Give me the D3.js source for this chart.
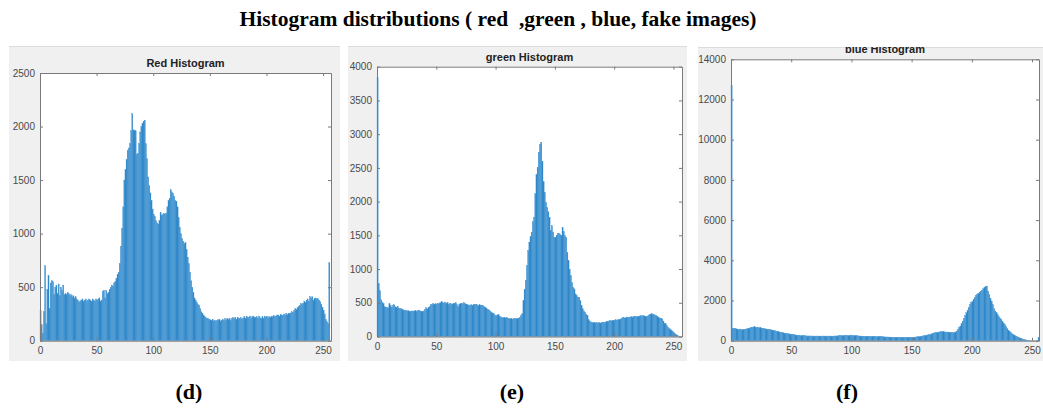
<html>
<head>
<script src="https://d3js.org/d3.v7.min.js"></script>
<style>
body { margin: 0; background: #fff; }
</style>
</head>
<body>
<div id="chart"></div>
<script>

// histogram counts per intensity level 0..255
var redCounts = [
 280,150,70,270,700,160,480,610,300,540,
 560,550,430,500,520,440,530,420,500,470,
 520,430,440,430,450,440,420,430,410,420,
 400,410,390,380,360,370,380,390,370,380,
 390,370,380,390,380,370,390,380,370,390,
 380,390,400,370,380,460,470,400,470,440,
 450,480,500,520,510,540,550,580,620,640,
 720,880,1050,1250,1500,1600,1690,1780,1800,1840,
 1960,2120,1970,1960,1960,1740,1750,1840,1950,2000,
 2030,2050,2060,1840,1700,1530,1450,1380,1310,1230,
 1180,1160,1120,1100,1090,1120,1200,1170,1180,1190,
 1180,1190,1250,1310,1330,1410,1390,1375,1350,1310,
 1300,1250,1150,1060,1000,955,930,908,920,850,
 780,720,640,560,500,450,400,380,360,340,
 333,300,270,255,240,224,215,210,208,200,
 195,190,200,185,193,180,190,195,200,185,
 193,200,190,205,195,210,200,208,190,210,
 215,205,218,200,220,210,208,215,200,212,
 225,210,230,215,220,230,210,224,230,215,
 220,224,210,230,215,208,225,210,230,220,
 230,215,225,220,230,224,235,225,230,240,
 240,230,245,240,235,250,240,255,245,255,
 255,260,270,265,280,300,290,310,320,330,
 348,340,350,370,360,380,390,370,410,400,
 410,380,395,400,390,395,380,364,340,310,
 286,250,200,177,160,728
];

var greenCounts = [
 3840,790,680,545,510,485,440,435,425,425,
 485,460,435,460,470,440,435,450,420,410,
 415,400,395,390,385,380,385,375,370,380,
 375,380,385,370,385,390,380,375,370,380,
 400,425,410,435,440,470,475,490,480,485,
 480,485,490,500,514,505,494,510,494,500,
 475,490,485,480,495,494,500,470,445,480,
 485,490,485,500,485,480,470,460,465,470,
 460,470,475,480,470,460,470,460,465,460,
 440,425,410,400,395,380,360,350,340,320,
 310,320,325,300,290,277,280,286,275,286,
 270,262,265,262,255,262,270,262,265,270,
 286,310,336,533,700,830,1050,1275,1400,1480,
 1546,1700,1770,2115,2400,2510,2730,2850,2880,2600,
 2300,2140,1990,1917,1850,1770,1570,1645,1550,1472,
 1472,1500,1530,1530,1515,1500,1620,1560,1500,1472,
 1250,1126,1000,904,800,730,706,632,607,583,
 583,533,460,410,380,360,330,311,247,230,
 215,212,205,210,202,205,202,208,200,210,
 212,215,210,220,225,230,237,232,240,235,
 245,247,240,250,255,260,270,286,280,275,
 290,286,280,286,295,290,296,300,292,296,
 300,305,310,300,311,306,300,296,305,320,
 330,336,330,326,320,310,300,286,275,270,
 262,230,200,188,160,138,120,100,89,70,
 55,40,25,12,5,3
];

var blueCounts = [
 12700,620,600,610,590,570,560,580,555,550,
 547,560,580,590,613,630,650,670,680,690,
 670,660,647,650,640,630,613,600,590,580,
 564,560,550,540,520,514,500,480,465,448,
 430,420,405,398,380,370,360,348,340,330,
 320,315,300,290,280,265,260,255,250,249,
 245,249,240,238,235,240,232,235,230,232,
 232,230,235,228,232,230,235,232,230,228,
 232,235,230,232,228,235,232,240,238,242,
 245,248,250,249,252,255,258,260,262,265,
 265,260,255,250,245,240,238,232,230,228,
 225,222,220,218,216,220,215,216,212,210,
 208,205,200,199,199,195,192,190,188,185,
 183,182,180,178,176,175,172,170,168,166,
 166,165,166,164,166,165,168,166,165,166,
 170,175,180,185,190,199,205,215,225,240,
 250,265,280,290,300,315,340,360,380,398,
 410,420,430,440,448,450,445,440,431,430,
 431,420,410,400,398,410,440,481,560,650,
 730,850,978,1100,1250,1393,1520,1650,1807,1900,
 1950,2056,2150,2250,2305,2350,2420,2471,2500,2580,
 2637,2680,2720,2471,2300,2100,1973,1800,1600,1476,
 1400,1310,1200,1130,1061,950,880,812,700,600,
 514,460,398,350,310,282,240,210,182,150,
 120,100,80,60,45,33,25,20,17,15,
 12,10,8,8,6,150
];

var xTicks = [0, 50, 100, 150, 200, 250];
var redYTicks = [0, 500, 1000, 1500, 2000, 2500];
var greenYTicks = [0, 500, 1000, 1500, 2000, 2500, 3000, 3500, 4000];
var blueYTicks = [0, 2000, 4000, 6000, 8000, 10000, 12000, 14000];

var panelTitles = ["Red Histogram", "green Histogram", "blue Histogram"];
var panelLabels = ["(d)", "(e)", "(f)"];
var mainTitle = "Histogram distributions ( red  ,green , blue, fake images)";

var width = 1043, height = 410;

var svg = d3.select("#chart")
    .append("svg")
    .attr("width", width)
    .attr("height", height);

svg.append("text")
    .attr("x", 498)
    .attr("y", 26)
    .attr("text-anchor", "middle")
    .attr("textLength", 517)
    .attr("lengthAdjust", "spacingAndGlyphs")
    .style("white-space", "pre")
    .style("font-family", "'Liberation Serif', 'Times New Roman', serif")
    .style("font-weight", "bold")
    .style("font-size", "20px")
    .text(mainTitle);

// layout of the three matlab-like figure panels
var panels = [
    {counts: redCounts, yTicks: redYTicks, yMax: 2500, xMax: 257,
     bg: {x: 9, y: 46, w: 331, h: 315},
     plot: {l: 40, t: 73, r: 331, b: 340.7}, titleY: 67, labelX: 189},
    {counts: greenCounts, yTicks: greenYTicks, yMax: 4000, xMax: 257.2,
     bg: {x: 348, y: 46, w: 339, h: 315},
     plot: {l: 377, t: 66.7, r: 682, b: 336.5}, titleY: 61, labelX: 512},
    {counts: blueCounts, yTicks: blueYTicks, yMax: 14000, xMax: 255.8,
     bg: {x: 698, y: 47, w: 345, h: 314},
     plot: {l: 731, t: 59.3, r: 1039, b: 340.7}, titleY: 53, labelX: 847}
];

var axisColor = "#7a7a7a";
var labelColor = "#4a4a4a";

panels.forEach(function(p, i) {
    var clipId = "clip" + i;
    svg.append("clipPath").attr("id", clipId)
        .append("rect")
        .attr("x", p.bg.x).attr("y", p.bg.y)
        .attr("width", p.bg.w).attr("height", p.bg.h);

    var g = svg.append("g").attr("clip-path", "url(#" + clipId + ")");

    g.append("rect")
        .attr("x", p.bg.x).attr("y", p.bg.y)
        .attr("width", p.bg.w).attr("height", p.bg.h)
        .attr("fill", "#f0f0f0");
    g.append("line")
        .attr("x1", p.bg.x).attr("x2", p.bg.x + p.bg.w)
        .attr("y1", p.bg.y + 0.5).attr("y2", p.bg.y + 0.5)
        .attr("stroke", "#dcdcdc");

    g.append("rect")
        .attr("x", p.plot.l).attr("y", p.plot.t)
        .attr("width", p.plot.r - p.plot.l).attr("height", p.plot.b - p.plot.t)
        .attr("fill", "#fff");

    var x = d3.scaleLinear().domain([0, p.xMax]).range([p.plot.l, p.plot.r]);
    var y = d3.scaleLinear().domain([0, p.yMax]).range([p.plot.b, p.plot.t]);

    g.selectAll(".bar")
        .data(p.counts)
        .enter()
        .append("rect")
        .attr("x", function(d, k) { return x(k); })
        .attr("width", function(d, k) { return x(k + 1) - x(k); })
        .attr("y", function(d) { return y(d); })
        .attr("height", function(d) { return p.plot.b - y(d); })
        .attr("fill", "#2a84c6")
        .attr("stroke", "#4f9dd8")
        .attr("stroke-width", 0.3);

    var fmt = d3.format("d");
    var left = g.append("g")
        .attr("transform", "translate(" + p.plot.l + ",0)")
        .call(d3.axisLeft(y).tickValues(p.yTicks).tickFormat(fmt).tickSizeInner(-3).tickSizeOuter(0).tickPadding(5));
    var bottom = g.append("g")
        .attr("transform", "translate(0," + p.plot.b + ")")
        .call(d3.axisBottom(x).tickValues(xTicks).tickFormat(fmt).tickSizeInner(-3).tickSizeOuter(0).tickPadding(6));
    var right = g.append("g")
        .attr("transform", "translate(" + p.plot.r + ",0)")
        .call(d3.axisRight(y).tickValues(p.yTicks).tickFormat("").tickSizeInner(-3).tickSizeOuter(0));
    var top = g.append("g")
        .attr("transform", "translate(0," + p.plot.t + ")")
        .call(d3.axisTop(x).tickValues(xTicks).tickFormat("").tickSizeInner(-3).tickSizeOuter(0));

    [left, bottom, right, top].forEach(function(a) {
        a.selectAll("path, line").attr("stroke", axisColor);
        a.selectAll("text")
            .attr("fill", labelColor)
            .style("font-family", "'Liberation Sans', Arial, sans-serif")
            .style("font-size", "10px");
    });

    g.append("text")
        .attr("x", (p.plot.l + p.plot.r) / 2)
        .attr("y", p.titleY)
        .attr("text-anchor", "middle")
        .attr("fill", "#222")
        .style("font-family", "'Liberation Sans', Arial, sans-serif")
        .style("font-weight", "bold")
        .style("font-size", "11px")
        .text(panelTitles[i]);

    svg.append("text")
        .attr("x", p.labelX)
        .attr("y", 399)
        .attr("text-anchor", "middle")
        .style("font-family", "'Liberation Serif', 'Times New Roman', serif")
        .style("font-weight", "bold")
        .style("font-size", "22px")
        .text(panelLabels[i]);
});

</script>
</body>
</html>
